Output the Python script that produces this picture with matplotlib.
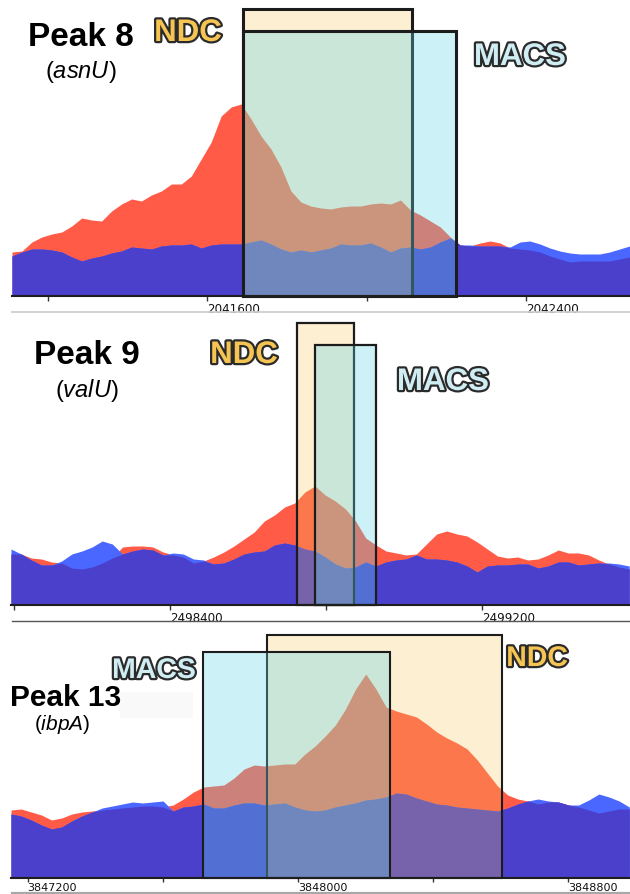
import numpy as np
import matplotlib
matplotlib.use("Agg")
import matplotlib.pyplot as plt
from matplotlib.patches import Rectangle
from matplotlib.lines import Line2D
import matplotlib.patheffects as pe

plt.rcParams["font.family"] = ["Liberation Sans", "DejaVu Sans"]
plt.rcParams["mathtext.fontset"] = "custom"
plt.rcParams["mathtext.it"] = "Liberation Sans:italic"

# ---------------- data ----------------
# Peak 8 (asnU): coverage in 25-bp bins
p8_start, p8_step = 2041110, 25
p8_treat = [44, 45, 54, 59, 62, 64, 70, 78, 76, 75, 85, 92, 97, 95, 101, 105, 112, 112, 120, 137,
            154, 180, 189, 192, 177, 160, 147, 129, 105, 94, 90, 88, 87, 89, 90, 90, 92, 93, 92, 96,
            86, 81, 75, 69, 59, 51, 50, 53, 55, 53, 48, 47, 46, 44, 40, 37, 34, 35, 35, 35, 35, 37, 39]
p8_ctrl = [40, 44, 47, 47, 46, 44, 39, 35, 38, 40, 43, 45, 49, 48, 47, 50, 51, 51, 52, 48,
           51, 52, 52, 52, 54, 56, 52, 47, 44, 46, 44, 46, 48, 52, 51, 51, 53, 49, 44, 48,
           49, 47, 49, 54, 58, 51, 51, 50, 50, 50, 49, 54, 55, 52, 48, 45, 43, 42, 42, 42, 44, 47, 50]
p8_ndc = (2041690, 2042114)
p8_macs = (2041690, 2042224)
p8_xlim = (2041110, 2042661)
p8_ticks = [2041200, 2041600, 2042000, 2042400]
p8_labels = [2041600, 2042400]

# Peak 9 (valU): coverage in 26-bp bins
p9_start, p9_step = 2497992, 26
p9_treat = [51, 51, 47, 46, 43, 42, 37, 36, 38, 42, 47, 58, 59, 59, 58, 53, 50, 48, 42, 44,
            48, 53, 59, 66, 73, 84, 90, 98, 102, 113, 119, 110, 104, 96, 84, 67, 60, 54, 52, 50,
            51, 61, 71, 74, 71, 69, 63, 56, 49, 47, 48, 45, 46, 50, 55, 52, 52, 50, 45, 41, 38, 36]
p9_ctrl = [56, 51, 45, 40, 40, 44, 51, 54, 58, 64, 61, 51, 54, 56, 55, 50, 52, 51, 46, 45,
           41, 42, 46, 51, 53, 54, 60, 62, 60, 56, 54, 48, 41, 37, 38, 43, 39, 43, 45, 46,
           50, 46, 46, 45, 43, 39, 33, 39, 40, 40, 41, 41, 37, 39, 43, 43, 40, 41, 42, 42, 41, 39]
p9_ndc = (2498726, 2498872)
p9_macs = (2498772, 2498928)
p9_xlim = (2497992, 2499580)
p9_ticks = [2498000, 2498400, 2498800, 2499200]
p9_labels = [2498400, 2499200]

# Peak 13 (ibpA): coverage in 30-bp bins
p13_start, p13_step = 3847151, 30
p13_treat = [68, 69, 66, 63, 58, 60, 64, 66, 67, 68, 69, 70, 71, 72, 72, 71, 73, 79, 86, 91,
             92, 93, 100, 109, 113, 112, 113, 114, 114, 124, 132, 142, 153, 169, 189, 204, 189, 171, 167, 164,
             161, 154, 146, 140, 135, 129, 118, 105, 92, 83, 79, 77, 74, 76, 76, 73, 71, 68, 65, 67, 69, 69]
p13_ctrl = [64, 62, 58, 53, 49, 51, 57, 62, 66, 70, 72, 74, 76, 75, 76, 77, 67, 71, 72, 74,
            70, 70, 73, 75, 75, 73, 74, 75, 71, 68, 67, 68, 71, 73, 75, 78, 79, 81, 85, 84,
            80, 77, 74, 73, 71, 70, 69, 68, 67, 70, 74, 77, 79, 77, 76, 73, 73, 78, 84, 81, 77, 71]
p13_ndc = (3847908, 3848604)
p13_macs = (3847719, 3848272)
p13_xlim = (3847151, 3848983)
p13_ticks = [3847200, 3847600, 3848000, 3848400, 3848800]
p13_labels = [3847200, 3848000, 3848800]

# ---------------- style ----------------
W, H = 630, 895
RED = "#ff5b47"
BLUE = "#4a68ff"
BOTH = "#4a40cc"
NDC_RGBA = (0.957, 0.769, 0.349, 0.27)
MACS_RGBA = (0.39, 0.84, 0.90, 0.32)
EDGE = "#1c1c1c"
NDC_TXT = "#f5c453"
MACS_TXT = "#cfedf3"

fig = plt.figure(figsize=(W / 100, H / 100), dpi=100)
fig.patch.set_facecolor("white")


def fx(x):
    return x / W


def fy(y):
    return 1 - y / H


def track(left, right, top, base, start, step, treat, ctrl, xlim, ticks, labels,
          ndc, macs, ndc_top, macs_top, box_lw, lab_size, lab_pad, tick_len):
    ax = fig.add_axes([fx(left), fy(base), fx(right) - fx(left), (base - top) / H])
    treat = np.asarray(treat, float)
    ctrl = np.asarray(ctrl, float)
    pos = start + step * np.arange(len(treat))
    low = np.minimum(treat, ctrl)
    ax.fill_between(pos, 0, treat, color=RED, lw=0)
    ax.fill_between(pos, 0, ctrl, color=BLUE, lw=0)
    ax.fill_between(pos, 0, low, color=BOTH, lw=0)
    ax.set_xlim(*xlim)
    ax.set_ylim(0, base - top)
    # called peak regions
    ax.add_patch(Rectangle((ndc[0], 0), ndc[1] - ndc[0], ndc_top, facecolor=NDC_RGBA,
                           edgecolor=EDGE, lw=box_lw, clip_on=False, zorder=3))
    ax.add_patch(Rectangle((macs[0], 0), macs[1] - macs[0], macs_top, facecolor=MACS_RGBA,
                           edgecolor=EDGE, lw=box_lw, clip_on=False, zorder=4))
    for s in ("top", "left", "right"):
        ax.spines[s].set_visible(False)
    ax.spines["bottom"].set_linewidth(1.5)
    ax.spines["bottom"].set_color("#1e1e1e")
    ax.spines["bottom"].set_zorder(5)
    ax.set_yticks([])
    ax.set_xticks(ticks)
    ax.set_xticklabels([str(t) if t in labels else "" for t in ticks])
    ax.tick_params(axis="x", direction="out", length=tick_len, width=1, color="#333",
                   pad=lab_pad, labelsize=lab_size, labelcolor="#111")
    for lab in ax.get_xticklabels():
        lab.set_ha("left")
        lab.set_family("DejaVu Sans")
    ax.patch.set_alpha(0)
    return ax


track(12, 630, 8, 297, p8_start, p8_step, p8_treat, p8_ctrl, p8_xlim, p8_ticks, p8_labels,
      p8_ndc, p8_macs, 287, 265, 2.2, 8.6, 1.0, 3.5)
track(11, 630, 320, 606, p9_start, p9_step, p9_treat, p9_ctrl, p9_xlim, p9_ticks, p9_labels,
      p9_ndc, p9_macs, 282, 260, 1.6, 8.6, 1.0, 3.5)
track(11, 630, 632, 879, p13_start, p13_step, p13_treat, p13_ctrl, p13_xlim, p13_ticks, p13_labels,
      p13_ndc, p13_macs, 243, 226, 1.5, 8.0, 0.2, 3.0)

# separators between tracks
fig.add_artist(Line2D([fx(12), fx(630)], [fy(313), fy(313)], color="#cfcfcf", lw=1.3))
fig.add_artist(Line2D([fx(12), fx(630)], [fy(621.5), fy(621.5)], color="#555555", lw=1.0))
fig.add_artist(Line2D([fx(12), fx(630)], [fy(894), fy(894)], color="#a8a8a8", lw=1.6))

# faint label backdrop
fig.add_artist(Rectangle((fx(120), fy(719)), fx(73), 26 / H, facecolor="#f9f9f9",
                         edgecolor="none", zorder=0))


def peak_title(x, y, txt, size):
    fig.text(fx(x), fy(y), txt, ha="center", va="baseline", fontsize=size,
             fontweight="bold", color="black")


def gene_label(x, y, gene, size):
    fig.text(fx(x), fy(y), "(" + r"$\mathit{" + gene + "}$" + ")", ha="center", va="baseline",
             fontsize=size, color="black")


def caller(x, y, txt, fill, size):
    fig.text(fx(x), fy(y), txt, ha="center", va="baseline", fontsize=size, fontweight="bold",
             color=fill, path_effects=[pe.withStroke(linewidth=3.2, foreground="#2b2b2b")],
             zorder=10)


peak_title(81, 46, "Peak 8", 24)
gene_label(81, 78, "asnU", 17)
caller(188, 42, "NDC", NDC_TXT, 22.5)
caller(520, 66, "MACS", MACS_TXT, 22.5)

peak_title(87, 364, "Peak 9", 24)
gene_label(87, 397, "valU", 17)
caller(244, 364, "NDC", NDC_TXT, 22.5)
caller(443, 391, "MACS", MACS_TXT, 22.5)

peak_title(66, 706, "Peak 13", 21.5)
gene_label(62, 730, "ibpA", 15)
caller(154, 679, "MACS", MACS_TXT, 20.5)
caller(537, 667, "NDC", NDC_TXT, 20.5)

fig.savefig("out.png", dpi=100)
